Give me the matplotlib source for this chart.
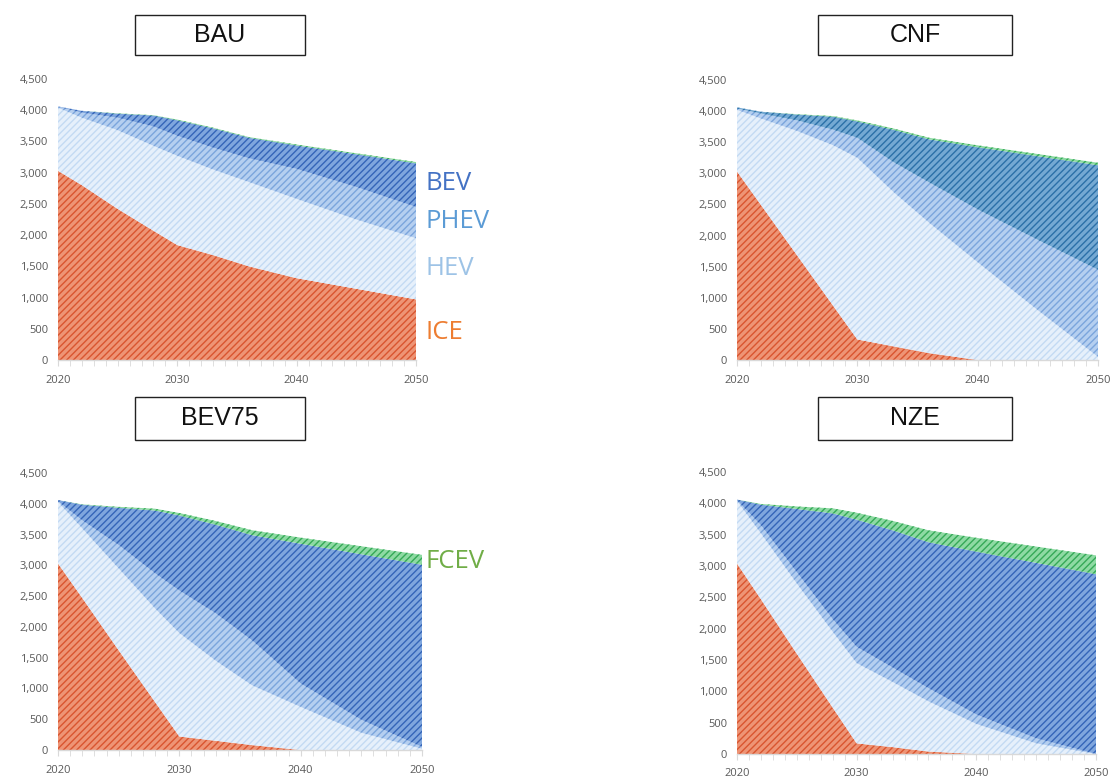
import matplotlib
matplotlib.use("Agg")
import matplotlib.pyplot as plt
from matplotlib.patches import Rectangle
from matplotlib.ticker import FuncFormatter, MultipleLocator

plt.rcParams['font.family'] = ['Open Sans', 'DejaVu Sans']
plt.rcParams['hatch.linewidth'] = 1.0

# ---------------- data ----------------
years = [2020, 2022, 2025, 2028, 2030, 2033, 2036, 2040, 2045, 2050]
techs = ["ICE", "HEV", "PHEV", "BEV", "FCEV"]

bau_ice  = [3030, 2800, 2420, 2070, 1840, 1680, 1500, 1310, 1140, 970]
bau_hev  = [1010, 1080, 1260, 1360, 1430, 1370, 1350, 1270, 1110, 980]
bau_phev = [15, 80, 200, 310, 320, 350, 380, 480, 520, 500]
bau_bev  = [5, 30, 65, 175, 250, 310, 330, 375, 525, 700]
bau_fcev = [0, 0, 5, 5, 10, 10, 10, 15, 15, 20]

cnf_ice  = [3030, 2490, 1680, 870, 330, 220, 110, 0, 0, 0]
cnf_hev  = [990, 1390, 2000, 2580, 2920, 2480, 2090, 1570, 800, 50]
cnf_phev = [20, 80, 170, 250, 320, 480, 650, 850, 1130, 1400]
cnf_bev  = [20, 30, 95, 210, 265, 520, 695, 1000, 1345, 1680]
cnf_fcev = [0, 0, 5, 10, 15, 20, 25, 30, 35, 40]

bev75_ice  = [3030, 2470, 1620, 780, 220, 150, 80, 0, 0, 0]
bev75_hev  = [1000, 1130, 1330, 1520, 1680, 1300, 970, 700, 280, 20]
bev75_phev = [10, 130, 380, 570, 690, 770, 730, 380, 210, 30]
bev75_bev  = [20, 255, 605, 1020, 1220, 1440, 1710, 2270, 2690, 2960]
bev75_fcev = [0, 5, 15, 30, 40, 60, 80, 100, 130, 160]

nze_ice  = [3040, 2470, 1600, 740, 170, 110, 40, 0, 0, 0]
nze_hev  = [1000, 1050, 1120, 1210, 1280, 1040, 800, 480, 170, 0]
nze_phev = [10, 130, 180, 200, 260, 230, 210, 150, 80, 0]
nze_bev  = [10, 330, 1010, 1690, 2030, 2190, 2330, 2600, 2800, 2870]
nze_fcev = [0, 10, 40, 80, 110, 150, 190, 220, 260, 300]

scenarios = {
    "BAU":   [bau_ice, bau_hev, bau_phev, bau_bev, bau_fcev],
    "CNF":   [cnf_ice, cnf_hev, cnf_phev, cnf_bev, cnf_fcev],
    "BEV75": [bev75_ice, bev75_hev, bev75_phev, bev75_bev, bev75_fcev],
    "NZE":   [nze_ice, nze_hev, nze_phev, nze_bev, nze_fcev],
}

y_ticks = [0, 500, 1000, 1500, 2000, 2500, 3000, 3500, 4000, 4500]
x_major = [2020, 2030, 2040, 2050]

# ---------------- style ----------------
face = {"ICE": "#EE9475", "HEV": "#E6F0FB", "PHEV": "#B5CFF0",
        "BEV": "#7FA6DE", "FCEV": "#8EDAA3"}
hatchc = {"ICE": "#D9552F", "HEV": "#C3DAF3", "PHEV": "#7BA5DC",
          "BEV": "#3465B8", "FCEV": "#35A957"}
# CNF's BEV band is rendered in a slightly more teal blue
override = {("CNF", "BEV"): ("#74A9D3", "#2B70A8")}

label_colors = {"BEV": "#4472C4", "PHEV": "#5B9BD5", "HEV": "#9DC3E6",
                "ICE": "#ED7D31", "FCEV": "#70AD47"}

W, H = 1117, 778
fig = plt.figure(figsize=(W / 100, H / 100), dpi=100)

# axes rectangles in pixels: (x_left, x_right, y_zero, y_top4500)
ax_px = {
    "BAU":   (58, 416, 360, 79),
    "CNF":   (737, 1098, 360, 80),
    "BEV75": (58, 422, 750, 473),
    "NZE":   (737, 1096, 754, 472),
}
xpad = {"BAU": 7, "CNF": 7, "BEV75": 7, "NZE": 6}
# title boxes in pixels: (x0, x1, y0, y1)
box_px = {
    "BAU":   (135, 305, 15, 55),
    "CNF":   (818, 1012, 15, 55),
    "BEV75": (135, 305, 397, 440),
    "NZE":   (818, 1012, 397, 440),
}

fmt = FuncFormatter(lambda v, p: f"{int(v):,}")

for name, series in scenarios.items():
    x0, x1, yb, yt = ax_px[name]
    ax = fig.add_axes([x0 / W, 1 - yb / H, (x1 - x0) / W, (yb - yt) / H])
    base = [0] * len(years)
    for tech, vals in zip(techs, series):
        top = [b + v for b, v in zip(base, vals)]
        fc, hc = override.get((name, tech), (face[tech], hatchc[tech]))
        ax.fill_between(years, base, top, facecolor=fc,
                        edgecolor=hc, hatch="/////", linewidth=0)
        base = top
    ax.set_xlim(2020, 2050)
    ax.set_ylim(0, 4500)
    ax.set_yticks(y_ticks)
    ax.yaxis.set_major_formatter(fmt)
    ax.set_xticks(x_major)
    ax.xaxis.set_minor_locator(MultipleLocator(1))
    for s in ["top", "right", "left"]:
        ax.spines[s].set_visible(False)
    ax.spines["bottom"].set_color("#D9D9D9")
    ax.spines["bottom"].set_linewidth(1.0)
    ax.tick_params(axis="y", length=0, pad=7, labelsize=8, labelcolor="#595959")
    ax.tick_params(axis="x", which="major", length=4, color="#D9D9D9",
                   pad=xpad[name], labelsize=8, labelcolor="#595959")
    ax.tick_params(axis="x", which="minor", length=4, color="#D9D9D9")
    ax.set_zorder(1)

    bx0, bx1, by0, by1 = box_px[name]
    fig.patches.append(Rectangle((bx0 / W, 1 - by1 / H), (bx1 - bx0) / W,
                                 (by1 - by0) / H, transform=fig.transFigure,
                                 facecolor="white", edgecolor="#222222",
                                 linewidth=1.0))
    fig.text((bx0 + bx1) / 2 / W, 1 - (by0 + by1) / 2 / H, name,
             ha="center", va="center", fontsize=18,
             family=["Liberation Sans", "DejaVu Sans"], color="#111111")

# right-side labels
side_labels = [("BEV", 183), ("PHEV", 222), ("HEV", 268), ("ICE", 333), ("FCEV", 561)]
for txt, ypx in side_labels:
    fig.text(425 / W, 1 - ypx / H, txt, ha="left", va="center",
             fontsize=18.5, color=label_colors[txt])

fig.savefig("out.png", dpi=100)
